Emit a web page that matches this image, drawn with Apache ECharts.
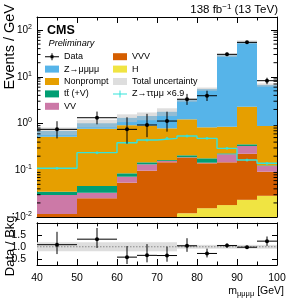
<!DOCTYPE html>
<html><head><meta charset="utf-8">
<script src="https://cdn.jsdelivr.net/npm/echarts@6/dist/echarts.min.js"></script>
<style>html,body{margin:0;padding:0;background:#fff}#c{width:291px;height:300px}</style>
</head><body><div id="c"></div><script>
// ---------------- data ----------------
const binEdges = [40, 50, 60, 65, 70, 75, 80, 85, 90, 95, 100];
const yieldH         = [0.001, 0.002, 0.003, 0.004, 0.007, 0.012, 0.0154, 0.018, 0.0233, 0.0284];
const yieldVVV       = [0.0106, 0.0231, 0.0512, 0.0938, 0.141, 0.175, 0.1256, 0.130, 0.2017, 0.0646];
const yieldVV        = [0.018, 0.008, 0.0186, 0.036, 0.010, 0.003, 0.004, 0.071, 0.105, 0.030];
const yieldTTV       = [0.0052, 0.0129, 0.0132, 0.014, 0.007, 0.019, 0.035, 0.011, 0.029, 0.004];
const yieldNonprompt = [0.487, 0.724, 0.834, 0.752, 0.625, 1.02, 0.65, 0.625, 1.93, 0.758];
const yieldZ4mu      = [0.168, 0.24, 0.40, 0.55, 0.99, 1.94, 4.62, 27.9, 53.2, 5.79];
const dataValues     = [0.75, 1.33, 0.75, 0.93, 1.13, 3.30, 3.93, 30.2, 54.5, 8.24];
const dataErrUp      = [0.37, 0.47, 0.61, 0.68, 0.66, 1.0, 1.1, 2.5, 3.3, 1.3];
const dataErrDown    = [0.27, 0.37, 0.38, 0.42, 0.46, 0.8, 0.9, 2.5, 3.3, 1.3];
const ztautauScaled  = [0.110, 0.238, 0.389, 0.444, 0.482, 0.541, 0.482, 0.294, 0.166, 0.141];
const bkgUncRel      = [0.19, 0.19, 0.19, 0.19, 0.19, 0.08, 0.08, 0.08, 0.08, 0.08];
const ratioTickValues = [0.5, 1.0, 1.5];

// ---------------- helpers ----------------
const FONT = '"Liberation Sans", Arial, Helvetica, sans-serif';
const nBins = binEdges.length - 1;
const layers = [
  { name: 'H', vals: yieldH, color: '#F0E442' },
  { name: 'VVV', vals: yieldVVV, color: '#D55E00' },
  { name: 'VV', vals: yieldVV, color: '#CC79A7' },
  { name: 'tt\u0304 (+V)', vals: yieldTTV, color: '#009E73' },
  { name: 'Nonprompt', vals: yieldNonprompt, color: '#E69F00' },
  { name: 'Z\u2192\u03bc\u03bc\u03bc\u03bc', vals: yieldZ4mu, color: '#56B4E9' }
];
const cum = new Array(nBins).fill(1e-6);
const stackSeries = layers.map(function (L) {
  const d = [];
  for (let i = 0; i < nBins; i++) {
    const lo = cum[i]; const hi = cum[i] + L.vals[i];
    cum[i] = hi;
    d.push([binEdges[i], binEdges[i + 1], lo, hi]);
  }
  return { name: L.name, color: L.color, data: d };
});
const total = cum.slice();

function rectRender(fill) {
  return function (params, api) {
    const a = api.coord([api.value(0), api.value(3)]);
    const b = api.coord([api.value(1), api.value(2)]);
    const cs = params.coordSys;
    const shape = echarts.graphic.clipRectByRect(
      { x: a[0], y: a[1], width: b[0] - a[0], height: b[1] - a[1] },
      { x: cs.x, y: cs.y, width: cs.width, height: cs.height });
    if (!shape) return null;
    return { type: 'rect', shape: shape, style: { fill: fill } };
  };
}
function errRender(params, api) {
  const x0 = api.value(0), x1 = api.value(1), y = api.value(2), lo = api.value(3), hi = api.value(4);
  const xc = (x0 + x1) / 2;
  const cs = params.coordSys;
  const pL = api.coord([x0, y]), pR = api.coord([x1, y]);
  const pT = api.coord([xc, hi]), pB = api.coord([xc, lo]);
  const top = Math.max(cs.y, pT[1]);
  const bot = Math.min(cs.y + cs.height, pB[1]);
  return { type: 'group', children: [
    { type: 'line', shape: { x1: pL[0], y1: pL[1], x2: pR[0], y2: pR[1] }, style: { stroke: '#000', lineWidth: 1 } },
    { type: 'line', shape: { x1: pT[0], y1: top, x2: pB[0], y2: bot }, style: { stroke: '#000', lineWidth: 1 } },
    { type: 'circle', shape: { cx: (pL[0] + pR[0]) / 2, cy: pL[1], r: 2 }, style: { fill: '#000' } }
  ] };
}
// log minor tick values (axis decoration)
const logMinor = [];
for (let k = -2; k <= 2; k++) for (let m = 2; m <= 9; m++) { const v = m * Math.pow(10, k); if (v < 190) logMinor.push([40, v]); }
function minorTickRender(params, api) {
  const cs = params.coordSys;
  const y = api.coord([api.value(0), api.value(1)])[1];
  return { type: 'group', children: [
    { type: 'line', shape: { x1: cs.x, y1: y, x2: cs.x + 3.5, y2: y }, style: { stroke: '#000', lineWidth: 1 } },
    { type: 'line', shape: { x1: cs.x + cs.width - 3.5, y1: y, x2: cs.x + cs.width, y2: y }, style: { stroke: '#000', lineWidth: 1 } }
  ] };
}

// ---------------- axes ----------------
const axLine = { show: true, onZero: false, lineStyle: { color: '#000', width: 1 } };
function xAx(grid, pos, labels) {
  return { type: 'value', gridIndex: grid, position: pos, min: 40, max: 100, interval: 10,
    axisLine: axLine,
    axisTick: { show: true, inside: true, length: 6, lineStyle: { color: '#000' } },
    minorTick: { show: true, splitNumber: 2, length: 3.5, lineStyle: { color: '#000' } },
    splitLine: { show: false }, minorSplitLine: { show: false },
    axisLabel: labels ? { show: true, margin: 8, color: '#000', fontSize: 10.5, fontFamily: FONT } : { show: false } };
}
function yLog(pos, labels) {
  return { type: 'log', logBase: 10, gridIndex: 0, position: pos, min: 0.01, max: 190,
    axisLine: axLine,
    axisTick: { show: true, inside: true, length: 6, lineStyle: { color: '#000' } },
    splitLine: { show: false },
    axisLabel: labels ? { show: true, showMaxLabel: false, margin: 5, color: '#000', fontFamily: FONT,
      formatter: function (v) { return '{b|10}{s|' + Math.round(Math.log10(v)) + '}'; },
      rich: { b: { fontSize: 10, fontFamily: FONT, color: '#000', lineHeight: 13 },
              s: { fontSize: 7, fontFamily: FONT, color: '#000', verticalAlign: 'top', lineHeight: 8 } } } : { show: false } };
}
function yRatio(pos, labels) {
  return { type: 'value', gridIndex: 1, position: pos, min: 0.24, max: 2.0,
    axisLine: axLine,
    axisTick: { show: true, inside: true, length: 5, customValues: ratioTickValues, lineStyle: { color: '#000' } },
    splitLine: { show: false },
    axisLabel: labels ? { show: true, customValues: ratioTickValues, margin: 11, color: '#000', fontSize: 10.5, fontFamily: FONT,
      formatter: function (v) { return v.toFixed(1); } } : { show: false } };
}

// ---------------- series ----------------
const series = [];
stackSeries.forEach(function (s) {
  series.push({ type: 'custom', name: s.name, xAxisIndex: 0, yAxisIndex: 0, z: 2, silent: true,
    itemStyle: { color: s.color }, encode: { x: [0, 1], y: [2, 3] },
    renderItem: rectRender(s.color), data: s.data });
});
const uncColor = 'rgba(195,195,195,0.55)';
series.push({ type: 'custom', name: 'Total uncertainty', xAxisIndex: 0, yAxisIndex: 0, z: 3, silent: true,
  itemStyle: { color: uncColor }, encode: { x: [0, 1], y: [2, 3] }, renderItem: rectRender(uncColor),
  data: total.map(function (t, i) { return [binEdges[i], binEdges[i + 1], t * (1 - bkgUncRel[i]), t * (1 + bkgUncRel[i])]; }) });
const cyan = '#35e3da';
series.push({ type: 'line', name: 'Z\u2192\u03c4\u03c4\u03bc\u03bc \u00d76.9', xAxisIndex: 0, yAxisIndex: 0, z: 4, silent: true,
  step: 'end', showSymbol: false, symbol: 'none', lineStyle: { color: cyan, width: 1.4 }, itemStyle: { color: cyan },
  data: binEdges.map(function (x, i) { return [x, ztautauScaled[Math.min(i, nBins - 1)]]; }) });
series.push({ type: 'scatter', name: 'Z\u2192\u03c4\u03c4\u03bc\u03bc \u00d76.9', xAxisIndex: 0, yAxisIndex: 0, z: 4, silent: true,
  symbolSize: 3, itemStyle: { color: cyan },
  data: ztautauScaled.map(function (v, i) { return [(binEdges[i] + binEdges[i + 1]) / 2, v]; }) });
series.push({ type: 'custom', name: 'Data', xAxisIndex: 0, yAxisIndex: 0, z: 5, silent: true,
  itemStyle: { color: '#000' }, encode: { x: [0, 1], y: [2, 3, 4] }, renderItem: errRender,
  data: dataValues.map(function (v, i) { return [binEdges[i], binEdges[i + 1], v, v - dataErrDown[i], v + dataErrUp[i]]; }) });
series.push({ type: 'custom', name: 'logminor', xAxisIndex: 0, yAxisIndex: 0, z: 6, silent: true,
  renderItem: minorTickRender, data: logMinor });
// ratio panel
series.push({ type: 'custom', name: 'ratioBand', xAxisIndex: 2, yAxisIndex: 2, z: 2, silent: true,
  encode: { x: [0, 1], y: [2, 3] }, renderItem: rectRender('#dedede'),
  data: bkgUncRel.map(function (u, i) { return [binEdges[i], binEdges[i + 1], 1 - u, 1 + u]; }) });
series.push({ type: 'line', name: 'unity', xAxisIndex: 2, yAxisIndex: 2, z: 3, silent: true, symbol: 'none',
  lineStyle: { color: '#8a8a8a', width: 1, type: [1.5, 1.5] }, data: [[40, 1], [100, 1]] });
series.push({ type: 'custom', name: 'ratio', xAxisIndex: 2, yAxisIndex: 2, z: 5, silent: true,
  encode: { x: [0, 1], y: [2, 3, 4] }, renderItem: errRender,
  data: dataValues.map(function (v, i) { return [binEdges[i], binEdges[i + 1], v / total[i], (v - dataErrDown[i]) / total[i], (v + dataErrUp[i]) / total[i]]; }) });

const legendText = { fontSize: 9, fontFamily: FONT, color: '#000', lineHeight: 12.4 };
const crossIcon = 'path://M0,3h14v1h-14z M6.5,0h1v7h-1z M5.5,2h3v3h-3z';
const crossIcon2 = 'path://M0,3h14v1h-14z M6.5,0h1v7h-1z';

const option = {
  animation: false,
  backgroundColor: '#fff',
  grid: [
    { left: 37, top: 17, width: 240, height: 200 },
    { left: 37, top: 222.8, width: 240, height: 42.2 }
  ],
  xAxis: [xAx(0, 'bottom', false), xAx(0, 'top', false), xAx(1, 'bottom', true), xAx(1, 'top', false)],
  yAxis: [yLog('left', true), yLog('right', false), yRatio('left', true), yRatio('right', false)],
  legend: [
    { left: 45, top: 50.5, orient: 'vertical', padding: 0, itemGap: 0, itemWidth: 14, itemHeight: 7,
      selectedMode: false, textStyle: legendText,
      data: [{ name: 'Data', icon: crossIcon }, { name: 'Z\u2192\u03bc\u03bc\u03bc\u03bc', icon: 'rect' },
             { name: 'Nonprompt', icon: 'rect' }, { name: 'tt\u0304 (+V)', icon: 'rect' }, { name: 'VV', icon: 'rect' }] },
    { left: 113, top: 50.5, orient: 'vertical', padding: 0, itemGap: 0, itemWidth: 14, itemHeight: 7,
      selectedMode: false, textStyle: legendText,
      data: [{ name: 'VVV', icon: 'rect' }, { name: 'H', icon: 'rect' }, { name: 'Total uncertainty', icon: 'rect' },
             { name: 'Z\u2192\u03c4\u03c4\u03bc\u03bc \u00d76.9', icon: crossIcon2 }] }
  ],
  graphic: [
    { type: 'text', x: 278, y: 10, silent: true, style: { text: '{n|138 fb}{s|\u22121}{n| (13 TeV)}',
      align: 'right', textAlign: 'right', verticalAlign: 'middle', textVerticalAlign: 'middle',
      rich: { n: { fontSize: 11.5, fontFamily: FONT, fill: '#000', lineHeight: 14 },
              s: { fontSize: 8, fontFamily: FONT, fill: '#000', verticalAlign: 'top', lineHeight: 9 } } } },
    { type: 'text', x: 47, y: 31, silent: true, style: { text: 'CMS', fill: '#000',
      font: 'bold 12.5px ' + FONT, verticalAlign: 'middle', textVerticalAlign: 'middle' } },
    { type: 'text', x: 48.5, y: 43.5, silent: true, style: { text: 'Preliminary', fill: '#000',
      font: 'italic 9.2px ' + FONT, verticalAlign: 'middle', textVerticalAlign: 'middle' } },
    { type: 'text', x: 10, y: 4, rotation: Math.PI / 2, silent: true, style: { text: 'Events / GeV', fill: '#000',
      font: '14.5px ' + FONT, align: 'right', textAlign: 'right', verticalAlign: 'middle', textVerticalAlign: 'middle' } },
    { type: 'text', x: 10, y: 244, rotation: Math.PI / 2, silent: true, style: { text: 'Data / Bkg.', fill: '#000',
      font: '13px ' + FONT, align: 'center', textAlign: 'center', verticalAlign: 'middle', textVerticalAlign: 'middle' } },
    { type: 'text', x: 284, y: 291, silent: true, style: { text: '{m|m}{u|\u03bc\u03bc\u03bc\u03bc}{m| [GeV]}',
      align: 'right', textAlign: 'right', verticalAlign: 'middle', textVerticalAlign: 'middle',
      rich: { m: { fontSize: 10.5, fontFamily: FONT, fill: '#000', lineHeight: 13 },
              u: { fontSize: 7.5, fontFamily: FONT, fill: '#000', verticalAlign: 'bottom', lineHeight: 9 } } } }
  ],
  series: series
};
const chart = echarts.init(document.getElementById('c'), null, { renderer: 'canvas' });
chart.setOption(option);
</script></body></html>
